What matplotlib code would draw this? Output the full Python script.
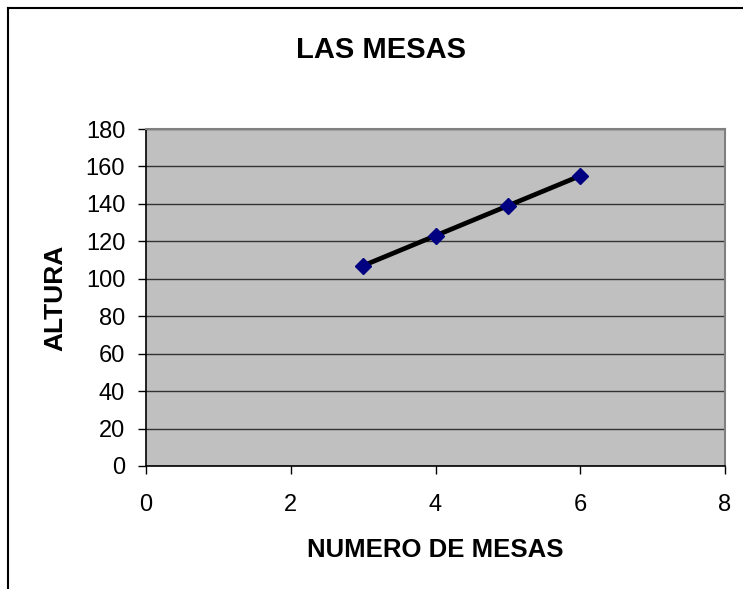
import matplotlib.pyplot as plt
from matplotlib.lines import Line2D

plt.rcParams['font.family'] = ['Liberation Sans', 'DejaVu Sans']

# datos
numero_mesas = [3, 4, 5, 6]
altura = [107, 123, 139, 155]

fig = plt.figure(figsize=(7.43, 5.89), dpi=100)
ax = fig.add_axes([146/743, 1 - 466/589, (725 - 146)/743, (466 - 129)/589])

ax.set_facecolor('#c0c0c0')
ax.plot(numero_mesas, altura, color='black', linewidth=3.4, zorder=3,
        marker='D', markersize=8, markerfacecolor='#000080', markeredgecolor='#000080')

ax.set_xlim(0, 8)
ax.set_ylim(0, 180)
ax.set_xticks(range(0, 9, 2))
ax.set_yticks(range(0, 181, 20))
ax.yaxis.grid(True, color='#333333', linewidth=1)
ax.set_axisbelow(True)

for s in ['top', 'right']:
    ax.spines[s].set_color('#808080')
    ax.spines[s].set_linewidth(1.5)
for s in ['left', 'bottom']:
    ax.spines[s].set_color('black')
    ax.spines[s].set_linewidth(1.2)

ax.tick_params(direction='out', length=6, width=1, labelsize=17, colors='black')
ax.tick_params(axis='x', pad=14)
ax.tick_params(axis='y', pad=9)

# titulo centrado en la figura, no en el area de trazado
fig.text(381/743, 1 - 58/589, 'LAS MESAS', fontsize=21, fontweight='bold',
         ha='center', va='baseline')
ax.set_xlabel('NUMERO DE MESAS', fontsize=18.5, fontweight='bold', labelpad=16)
ax.set_ylabel('ALTURA', fontsize=19, fontweight='bold', labelpad=13)

# borde de la figura (solo arriba e izquierda)
fig.add_artist(Line2D([8/743, 8/743], [0, 1 - 8/589], color='black', linewidth=1.5))
fig.add_artist(Line2D([8/743, 1], [1 - 8/589, 1 - 8/589], color='black', linewidth=1.5))

fig.savefig('out.png', dpi=100)
